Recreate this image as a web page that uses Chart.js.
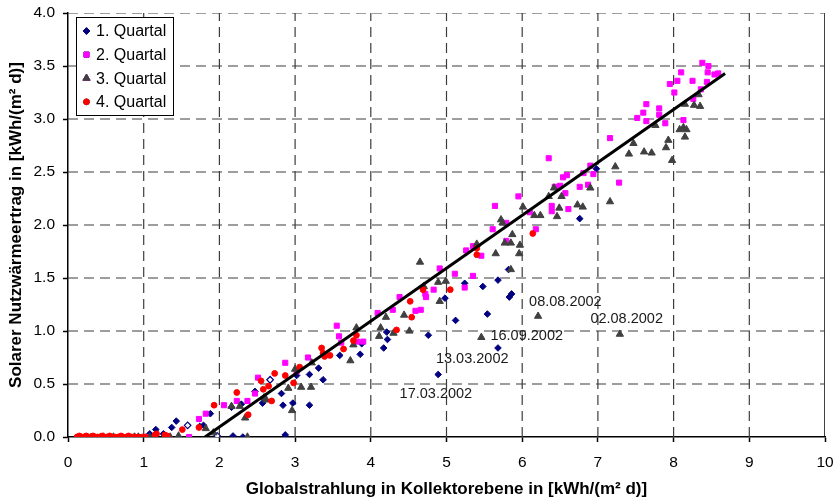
<!DOCTYPE html>
<html>
<head>
<meta charset="utf-8">
<script src="https://cdn.jsdelivr.net/npm/chart.js@4.4.0/dist/chart.umd.min.js"></script>
<style>
    body { margin: 0; background: #fff; }
    #wrap { width: 840px; height: 501px; }
</style>
</head>
<body>
<div id="wrap"><canvas id="chartSolar"></canvas></div>
<script>
// Datos (x = Globalstrahlung, y = Nutzwärmeertrag)
const q1X = [0.30, 0.55, 0.72, 0.87, 1.08, 1.16, 1.26, 1.37, 1.43, 1.74, 1.79, 1.88, 2.18, 2.31, 2.16, 2.29, 2.47, 2.57, 2.82, 2.84, 2.87, 2.97, 3.02, 3.19, 3.19, 3.31, 3.37, 3.59, 3.86, 3.88, 4.17, 4.22, 4.21, 4.76, 4.89, 4.98, 5.12, 5.24, 5.48, 5.54, 5.68, 5.68, 5.82, 5.83, 5.86, 6.76, 6.98];
const q1Y = [0.00, 0.00, 0.00, 0.00, 0.03, 0.07, 0.03, 0.09, 0.15, 0.10, 0.11, 0.22, 0.01, 0.00, 0.28, 0.31, 0.43, 0.32, 0.41, 0.30, 0.02, 0.32, 0.58, 0.59, 0.30, 0.65, 0.54, 0.77, 0.78, 0.88, 0.84, 0.92, 0.99, 0.96, 0.59, 1.31, 1.10, 1.45, 1.42, 1.16, 0.84, 1.48, 1.58, 1.32, 1.35, 2.06, 2.53];
// Rauten ohne Füllung (1. Quartal)
const q1OffenX = [1.58, 1.97, 2.67];
const q1OffenY = [0.11, 0.01, 0.54];

const q2X = [1.05, 1.60, 1.73, 1.82, 2.06, 2.23, 2.37, 2.47, 2.51, 2.87, 3.02, 3.17, 3.55, 3.58, 3.61, 3.82, 3.90, 4.09, 4.29, 4.38, 4.59, 4.66, 4.72, 4.73, 4.83, 4.91, 5.11, 5.24, 5.26, 5.35, 5.35, 5.46, 5.61, 5.64, 5.79, 5.79, 5.95, 6.10, 6.18, 6.35, 6.39, 6.39, 6.43, 6.50, 6.54, 6.59, 6.57, 6.61, 6.76, 6.81, 6.87, 6.90, 6.94, 7.16, 7.28, 7.52, 7.60, 7.64, 7.64, 7.81, 7.81, 7.89, 7.95, 8.01, 8.05, 8.10, 8.13, 8.25, 8.26, 8.36, 8.38, 8.44, 8.45, 8.46, 8.54, 8.59];
const q2Y = [0.00, 0.00, 0.17, 0.22, 0.30, 0.34, 0.34, 0.41, 0.56, 0.70, 0.62, 0.75, 1.05, 0.95, 0.89, 0.90, 0.90, 1.17, 1.20, 1.32, 1.19, 1.20, 1.35, 1.32, 1.39, 1.59, 1.54, 1.41, 1.76, 1.52, 1.80, 1.71, 1.96, 2.18, 2.02, 1.85, 2.27, 2.12, 1.96, 2.63, 2.13, 2.18, 2.36, 2.37, 2.45, 2.47, 2.30, 2.15, 2.36, 2.49, 2.38, 2.56, 2.48, 2.82, 2.40, 3.01, 3.06, 3.14, 2.98, 3.10, 3.04, 2.96, 3.33, 3.25, 3.36, 3.44, 2.99, 3.36, 3.19, 3.28, 3.53, 3.35, 3.44, 3.50, 3.42, 3.43];

const q3X = [0.47, 0.60, 0.88, 0.93, 1.08, 1.35, 1.46, 1.82, 1.92, 2.37, 2.16, 2.27, 2.34, 2.59, 2.62, 2.91, 2.96, 3.00, 3.08, 3.21, 3.22, 3.73, 3.77, 3.81, 4.11, 4.13, 4.20, 4.30, 4.44, 4.51, 4.65, 4.70, 4.89, 4.91, 4.99, 5.40, 5.46, 5.65, 5.72, 5.74, 5.77, 5.85, 5.87, 5.85, 5.96, 5.97, 6.01, 6.16, 6.21, 6.24, 6.35, 6.42, 6.46, 6.49, 6.52, 6.73, 6.80, 6.90, 7.16, 7.23, 7.29, 7.41, 7.47, 7.61, 7.71, 7.76, 7.90, 7.93, 7.98, 8.08, 8.13, 8.15, 8.17, 8.15, 8.27, 8.33, 8.35];
const q3Y = [0.00, 0.00, 0.00, 0.00, 0.00, 0.00, 0.01, 0.08, 0.04, 0.00, 0.29, 0.29, 0.18, 0.37, 0.35, 0.46, 0.25, 0.64, 0.47, 0.47, 0.70, 0.72, 0.87, 1.03, 0.95, 1.03, 1.13, 0.98, 1.15, 1.00, 1.65, 1.42, 1.46, 1.28, 1.47, 1.82, 0.94, 1.73, 2.05, 2.02, 1.83, 1.83, 1.91, 1.58, 1.73, 1.81, 2.17, 2.09, 1.14, 2.09, 2.27, 2.35, 2.08, 2.16, 2.27, 2.19, 2.17, 2.35, 2.22, 2.55, 0.97, 2.67, 2.77, 2.69, 2.68, 2.94, 2.73, 2.80, 2.61, 2.90, 2.92, 2.83, 2.90, 3.14, 3.13, 3.23, 3.12];

const q4X = [0.12, 0.15, 0.18, 0.21, 0.24, 0.27, 0.30, 0.33, 0.36, 0.39, 0.42, 0.45, 0.48, 0.51, 0.55, 0.58, 0.62, 0.66, 0.70, 0.73, 0.77, 0.80, 0.84, 0.88, 0.92, 0.98, 1.02, 1.15, 1.17, 1.28, 1.31, 1.51, 1.73, 1.93, 2.23, 2.38, 2.55, 2.58, 2.65, 2.69, 2.73, 2.87, 2.98, 3.06, 3.35, 3.37, 3.39, 3.46, 3.64, 3.77, 3.81, 4.34, 4.52, 4.54, 4.69, 5.05, 5.40, 5.40, 6.14];
const q4Y = [0.00, 0.01, 0.00, 0.00, 0.01, 0.00, 0.00, 0.01, 0.00, 0.00, 0.00, 0.01, 0.00, 0.00, 0.01, 0.00, 0.00, 0.00, 0.01, 0.00, 0.00, 0.01, 0.00, 0.00, 0.00, 0.00, 0.00, 0.02, 0.03, 0.02, 0.01, 0.07, 0.09, 0.30, 0.42, 0.21, 0.53, 0.45, 0.48, 0.34, 0.60, 0.58, 0.51, 0.66, 0.84, 0.79, 0.76, 0.77, 0.83, 0.91, 0.96, 1.01, 1.28, 1.13, 1.39, 1.39, 1.78, 1.72, 1.92];

// Ausgleichsgerade
const trendX = [1.81, 8.68];
const trendY = [0.00, 3.43];

// Beschriftungen einzelner Tage
const etiquetaTexto = ['08.08.2002', '02.08.2002', '16.09.2002', '13.03.2002', '17.03.2002'];
const etiquetaX = [6.57, 7.38, 6.06, 5.34, 4.86];
const etiquetaY = [1.27, 1.11, 0.95, 0.74, 0.41];

const leyendaTexto = ['1. Quartal', '2. Quartal', '3. Quartal', '4. Quartal'];

const xTicks = [0, 1, 2, 3, 4, 5, 6, 7, 8, 9, 10];
const yTicks = [0, 0.5, 1, 1.5, 2, 2.5, 3, 3.5, 4];

const fuente = '"Liberation Sans", Arial, sans-serif';
const colNavy = '#000080';
const colMagenta = '#ff00ff';
const colGris = '#404040';
const colRojo = '#ff0000';

function puntos(xs, ys) {
    return xs.map((x, i) => ({ x: x, y: ys[i] }));
}

// Gitterlinien als Linien-Datensätze über die Achsen
const xMin = xTicks[0], xMax = xTicks[xTicks.length - 1];
const yMin = yTicks[0], yMax = yTicks[yTicks.length - 1];

function lineaRejilla(datos, discontinua) {
    return {
        label: 'rejilla',
        data: datos,
        showLine: true,
        fill: false,
        borderColor: discontinua ? '#3c3c3c' : '#000',
        borderWidth: discontinua ? 1.2 : 1.5,
        borderDash: discontinua ? [10, 6] : [],
        pointRadius: 0,
        order: 10
    };
}

const rejillaDatasets = [
    ...xTicks.slice(1, -1).map(v => lineaRejilla([{ x: v, y: yMin }, { x: v, y: yMax }], true)),
    ...yTicks.slice(1).map(v => lineaRejilla([{ x: xMin, y: v }, { x: xMax, y: v }], true)),
    lineaRejilla([{ x: xMax, y: yMin }, { x: xMax, y: yMax }], false)
];

function dibujarEtiquetas(chart) {
    const { ctx, scales } = chart;
    ctx.save();
    ctx.font = '14.5px ' + fuente;
    ctx.fillStyle = '#1a1a1a';
    ctx.textAlign = 'center';
    ctx.textBaseline = 'middle';
    etiquetaTexto.forEach((t, i) => {
        ctx.fillText(t, scales.x.getPixelForValue(etiquetaX[i]), scales.y.getPixelForValue(etiquetaY[i]));
    });
    ctx.restore();
}

function dibujarLeyenda(chart) {
    const { ctx, chartArea } = chart;
    const left = chartArea.left + 8;
    const top = chartArea.top + 4;
    ctx.save();
    ctx.fillStyle = '#fff';
    ctx.fillRect(left, top, 97, 98);
    ctx.strokeStyle = '#000';
    ctx.lineWidth = 1;
    ctx.strokeRect(left + 0.5, top + 0.5, 97, 98);
    ctx.font = '16px ' + fuente;
    ctx.textBaseline = 'middle';
    ctx.textAlign = 'left';
    chart.data.datasets.slice(0, 4).forEach((ds, i) => {
        const cy = top + 14 + i * 23.6;
        const cx = left + 10.5;
        Chart.helpers.drawPoint(ctx, {
            pointStyle: ds.pointStyle,
            radius: ds.pointRadius,
            borderWidth: 1
        }, cx, cy);
        ctx.fillStyle = ds.backgroundColor;
        ctx.strokeStyle = ds.borderColor;
        ctx.fill();
        ctx.stroke();
        ctx.fillStyle = '#000';
        ctx.fillText(leyendaTexto[i], left + 20, cy + 1);
    });
    ctx.restore();
}

const extrasPlugin = {
    id: 'extrasSolar',
    afterDatasetsDraw(chart) {
        dibujarEtiquetas(chart);
    },
    afterDraw(chart) {
        dibujarLeyenda(chart);
    }
};

const ejeGrid = {
    display: true,
    drawOnChartArea: false,
    drawTicks: true,
    tickLength: 5,
    tickColor: '#000',
    tickWidth: 1.5,
    color: '#000',
    lineWidth: 1
};

const ctxSolar = document.getElementById('chartSolar').getContext('2d');
new Chart(ctxSolar, {
    type: 'scatter',
    data: {
        datasets: [
            {
                label: leyendaTexto[0],
                data: puntos(q1X, q1Y),
                pointStyle: 'rectRot',
                pointRadius: 3.3,
                backgroundColor: colNavy,
                borderColor: colNavy,
                borderWidth: 1,
                order: 4
            },
            {
                label: leyendaTexto[1],
                data: puntos(q2X, q2Y),
                pointStyle: 'rect',
                pointRadius: 3.6,
                backgroundColor: colMagenta,
                borderColor: colMagenta,
                borderWidth: 1,
                order: 3
            },
            {
                label: leyendaTexto[2],
                data: puntos(q3X, q3Y),
                pointStyle: 'triangle',
                pointRadius: 4.2,
                backgroundColor: colGris,
                borderColor: colGris,
                borderWidth: 1,
                order: 2
            },
            {
                label: leyendaTexto[3],
                data: puntos(q4X, q4Y),
                pointStyle: 'circle',
                pointRadius: 2.9,
                backgroundColor: colRojo,
                borderColor: colRojo,
                borderWidth: 1,
                order: 1
            },
            {
                label: 'offen',
                data: puntos(q1OffenX, q1OffenY),
                pointStyle: 'rectRot',
                pointRadius: 3.3,
                backgroundColor: '#fff',
                borderColor: colNavy,
                borderWidth: 1.2,
                order: 4
            },
            {
                label: 'Trend',
                data: puntos(trendX, trendY),
                showLine: true,
                fill: false,
                borderColor: '#000',
                borderWidth: 3,
                pointRadius: 0,
                order: 0
            },
            ...rejillaDatasets
        ]
    },
    options: {
        responsive: true,
        maintainAspectRatio: false,
        animation: false,
        layout: { padding: { top: 13, right: 15, left: 0, bottom: 0 } },
        plugins: {
            legend: { display: false },
            tooltip: { enabled: false }
        },
        scales: {
            x: {
                type: 'linear',
                min: xMin,
                max: xMax,
                afterBuildTicks: (s) => { s.ticks = xTicks.map(v => ({ value: v })); },
                afterFit: (s) => { s.height = 64; s.paddingLeft = 0; s.paddingRight = 0; },
                ticks: {
                    color: '#000',
                    padding: 11,
                    font: { family: fuente, size: 15.5 },
                    callback: (v) => String(v)
                },
                grid: ejeGrid,
                border: { display: true, color: '#000', width: 1.5 },
                title: {
                    display: true,
                    text: 'Globalstrahlung in Kollektorebene in [kWh/(m² d)]',
                    color: '#000',
                    font: { family: fuente, size: 17, weight: 'bold' },
                    padding: { top: 0, bottom: 1 }
                }
            },
            y: {
                type: 'linear',
                min: yMin,
                max: yMax,
                afterBuildTicks: (s) => { s.ticks = yTicks.map(v => ({ value: v })); },
                afterFit: (s) => { s.width = 68; s.paddingTop = 0; s.paddingBottom = 0; },
                ticks: {
                    color: '#000',
                    padding: 8,
                    font: { family: fuente, size: 15.5 },
                    callback: (v) => Number(v).toFixed(1)
                },
                grid: ejeGrid,
                border: { display: true, color: '#000', width: 1.5 },
                title: {
                    display: true,
                    text: 'Solarer Nutzwärmeertrag in [kWh/(m² d)]',
                    color: '#000',
                    font: { family: fuente, size: 17, weight: 'bold' },
                    padding: { top: 6, bottom: 0 }
                }
            }
        }
    },
    plugins: [extrasPlugin]
});
</script>
</body>
</html>
